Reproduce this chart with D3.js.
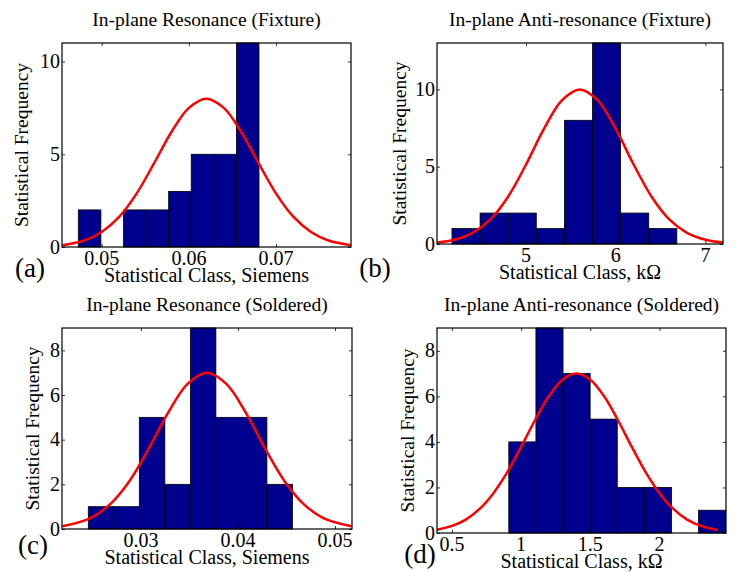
<!DOCTYPE html>
<html>
<head>
<meta charset="utf-8">
<script src="https://cdn.jsdelivr.net/npm/d3@7"></script>
<style>
  body { margin: 0; background: #fff; }
</style>
</head>
<body>
<svg id="fig" width="739" height="572" font-family="'Liberation Serif', 'Times New Roman', Times, serif"></svg>
<script>
// ---- data ----

// (a) In-plane Resonance (Fixture), Siemens
const aBinStart = 0.04732, aBinWidth = 0.00259;
const aCounts = [2, 0, 2, 2, 3, 5, 5, 11];
const aFitX = [0.0455, 0.048, 0.050, 0.052, 0.054, 0.056, 0.058, 0.060, 0.062, 0.064, 0.066, 0.068, 0.070, 0.072, 0.074, 0.076, 0.0786];
const aFitY = [0.10, 0.35, 0.81, 1.62, 2.88, 4.51, 6.20, 7.50, 8.00, 7.50, 6.20, 4.51, 2.88, 1.62, 0.81, 0.35, 0.10];
const aXTicks = [0.05, 0.06, 0.07];
const aXTickLabels = ["0.05", "0.06", "0.07"];
const aYTicks = [0, 5, 10];

// (b) In-plane Anti-resonance (Fixture), kOhm
const bBinStart = 4.175, bBinWidth = 0.3133;
const bCounts = [1, 2, 2, 1, 8, 13, 2, 1];
const bFitX = [4.01, 4.2, 4.4, 4.6, 4.8, 5.0, 5.2, 5.4, 5.6, 5.8, 6.0, 6.2, 6.4, 6.6, 6.8, 7.0, 7.2];
const bFitY = [0.09, 0.27, 0.70, 1.57, 3.06, 5.14, 7.44, 9.29, 10.0, 9.29, 7.44, 5.14, 3.06, 1.57, 0.70, 0.27, 0.09];
const bXTicks = [5, 6, 7];
const bXTickLabels = ["5", "6", "7"];
const bYTicks = [0, 5, 10];

// (c) In-plane Resonance (Soldered), Siemens
const cBinStart = 0.02457, cBinWidth = 0.00263;
const cCounts = [1, 1, 5, 2, 9, 5, 5, 2];
const cFitX = [0.0219, 0.0248, 0.0268, 0.0288, 0.0308, 0.0328, 0.0348, 0.0368, 0.0388, 0.0408, 0.0428, 0.0448, 0.0468, 0.0488, 0.0517];
const cFitY = [0.12, 0.49, 1.10, 2.14, 3.60, 5.21, 6.50, 7.00, 6.50, 5.21, 3.60, 2.14, 1.10, 0.49, 0.12];
const cXTicks = [0.03, 0.04, 0.05];
const cXTickLabels = ["0.03", "0.04", "0.05"];
const cYTicks = [0, 2, 4, 6, 8];

// (d) In-plane Anti-resonance (Soldered), kOhm
const dBinStart = 0.911, dBinWidth = 0.196;
const dCounts = [4, 9, 7, 5, 2, 2, 0, 1];
const dFitX = [0.392, 0.5, 0.6, 0.7, 0.8, 0.9, 1.0, 1.1, 1.2, 1.3, 1.4, 1.5, 1.6, 1.7, 1.8, 1.9, 2.0, 2.1, 2.2, 2.3, 2.42];
const dFitY = [0.14, 0.31, 0.59, 1.06, 1.75, 2.67, 3.78, 4.95, 6.00, 6.73, 7.00, 6.73, 6.00, 4.95, 3.78, 2.67, 1.75, 1.06, 0.59, 0.31, 0.13];
const dXTicks = [0.5, 1, 1.5, 2];
const dXTickLabels = ["0.5", "1", "1.5", "2"];
const dYTicks = [0, 2, 4, 6, 8];

const titles = ["In-plane Resonance (Fixture)", "In-plane Anti-resonance (Fixture)",
                "In-plane Resonance (Soldered)", "In-plane Anti-resonance (Soldered)"];
const xLabels = ["Statistical Class, Siemens", "Statistical Class, k\u03A9",
                 "Statistical Class, Siemens", "Statistical Class, k\u03A9"];
const yLabel = "Statistical Frequency";
const letters = ["(a)", "(b)", "(c)", "(d)"];

// ---- layout ----
const panels = [
  {box: [62, 43, 351, 247], xDom: [0.04545, 0.07859], yMax: 11, binStart: aBinStart, binWidth: aBinWidth, counts: aCounts,
   fitX: aFitX, fitY: aFitY, xTicks: aXTicks, xTickLabels: aXTickLabels, yTicks: aYTicks, yLabX: 28, letter: [30, 277]},
  {box: [437, 43, 723, 244], xDom: [4.008, 7.196], yMax: 13, binStart: bBinStart, binWidth: bBinWidth, counts: bCounts,
   fitX: bFitX, fitY: bFitY, xTicks: bXTicks, xTickLabels: bXTickLabels, yTicks: bYTicks, yLabX: 406, letter: [375, 277]},
  {box: [62, 328, 352, 529], xDom: [0.02186, 0.05175], yMax: 9, binStart: cBinStart, binWidth: cBinWidth, counts: cCounts,
   fitX: cFitX, fitY: cFitY, xTicks: cXTicks, xTickLabels: cXTickLabels, yTicks: cYTicks, yLabX: 39, letter: [33, 554]},
  {box: [437, 328, 726, 533], xDom: [0.392, 2.481], yMax: 9, binStart: dBinStart, binWidth: dBinWidth, counts: dCounts,
   fitX: dFitX, fitY: dFitY, xTicks: dXTicks, xTickLabels: dXTickLabels, yTicks: dYTicks, yLabX: 414, letter: [420, 563]}
];

const svg = d3.select("#fig");
svg.append("rect").attr("width", 739).attr("height", 572).attr("fill", "#fff");

panels.forEach(function(p, i) {
  const [x0, y0, x1, y1] = p.box;
  const x = d3.scaleLinear().domain(p.xDom).range([x0, x1]);
  const y = d3.scaleLinear().domain([0, p.yMax]).range([y1, y0]);
  const g = svg.append("g");

  // bars
  const bins = p.counts.map(function(c, k) {
    return {lo: p.binStart + k * p.binWidth, hi: p.binStart + (k + 1) * p.binWidth, n: c};
  });
  g.selectAll("rect.bar")
    .data(bins.filter(function(b) { return b.n > 0; }))
    .enter().append("rect")
    .attr("class", "bar")
    .attr("x", function(b) { return x(b.lo); })
    .attr("y", function(b) { return y(b.n); })
    .attr("width", function(b) { return x(b.hi) - x(b.lo); })
    .attr("height", function(b) { return y(0) - y(b.n); })
    .attr("fill", "#00008f")
    .attr("stroke", "#000")
    .attr("stroke-width", 0.8);

  // fitted curve
  const line = d3.line()
    .curve(d3.curveCatmullRom)
    .x(function(d) { return x(d[0]); })
    .y(function(d) { return y(d[1]); });
  g.append("path")
    .datum(d3.zip(p.fitX, p.fitY))
    .attr("fill", "none")
    .attr("stroke", "#ff0000")
    .attr("stroke-width", 2.5)
    .attr("d", line);

  // inward ticks on all four sides
  const tickLen = 3;
  const xAxisB = d3.axisBottom(x).tickValues(p.xTicks).tickSize(-tickLen).tickFormat("");
  const xAxisT = d3.axisTop(x).tickValues(p.xTicks).tickSize(-tickLen).tickFormat("");
  const yAxisL = d3.axisLeft(y).tickValues(p.yTicks).tickSize(-tickLen).tickFormat("");
  const yAxisR = d3.axisRight(y).tickValues(p.yTicks).tickSize(-tickLen).tickFormat("");
  [[xAxisB, "translate(0," + y1 + ")"], [xAxisT, "translate(0," + y0 + ")"],
   [yAxisL, "translate(" + x0 + ",0)"], [yAxisR, "translate(" + x1 + ",0)"]].forEach(function(a) {
    const ax = g.append("g").attr("transform", a[1]).call(a[0]);
    ax.select(".domain").remove();
    ax.selectAll("line").attr("stroke", "#000").attr("stroke-width", 0.8);
  });

  // box
  g.append("rect")
    .attr("x", x0).attr("y", y0)
    .attr("width", x1 - x0).attr("height", y1 - y0)
    .attr("fill", "none").attr("stroke", "#000").attr("stroke-width", 1.2);

  // tick labels
  g.selectAll("text.xt")
    .data(p.xTicks)
    .enter().append("text")
    .attr("x", function(d) { return x(d); })
    .attr("y", y1 + 18)
    .attr("text-anchor", "middle")
    .attr("font-size", 20)
    .text(function(d, k) { return p.xTickLabels[k]; });
  g.selectAll("text.yt")
    .data(p.yTicks)
    .enter().append("text")
    .attr("x", x0 - 2)
    .attr("y", function(d) { return y(d) + 6.5; })
    .attr("text-anchor", "end")
    .attr("font-size", 20)
    .text(function(d) { return d; });

  // titles and labels
  g.append("text")
    .attr("x", (x0 + x1) / 2).attr("y", y0 - 17)
    .attr("text-anchor", "middle")
    .attr("font-size", 19.5)
    .text(titles[i]);
  g.append("text")
    .attr("x", (x0 + x1) / 2).attr("y", y1 + 35)
    .attr("text-anchor", "middle")
    .attr("font-size", 20)
    .text(xLabels[i]);
  g.append("text")
    .attr("transform", "translate(" + p.yLabX + "," + ((y0 + y1) / 2) + ") rotate(-90)")
    .attr("text-anchor", "middle")
    .attr("font-size", 19.5)
    .text(yLabel);
  g.append("text")
    .attr("x", p.letter[0]).attr("y", p.letter[1])
    .attr("text-anchor", "middle")
    .attr("font-size", 27)
    .text(letters[i]);
});
</script>
</body>
</html>
